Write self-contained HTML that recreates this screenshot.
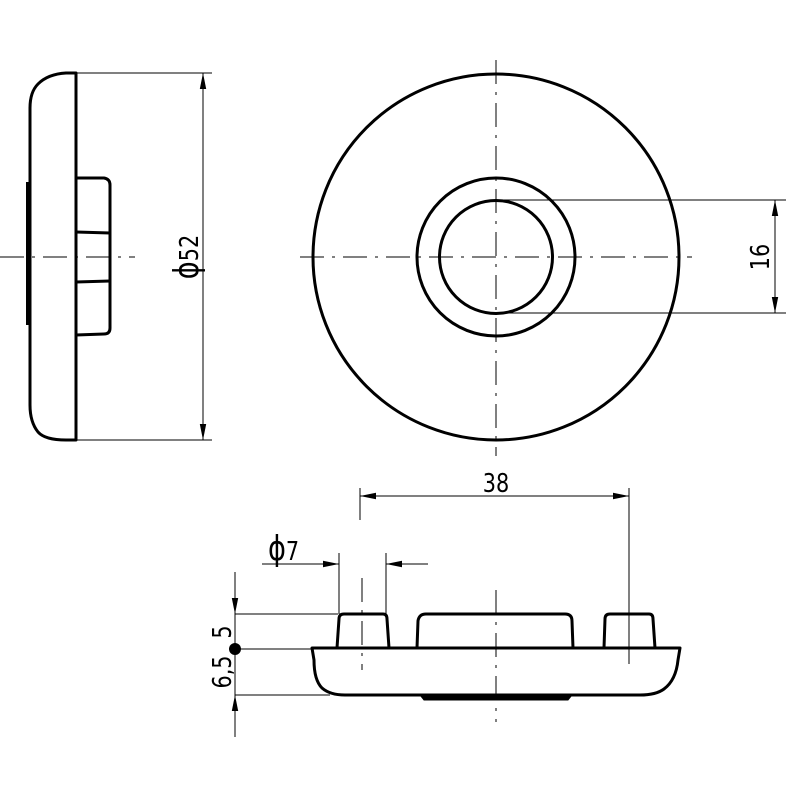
<!DOCTYPE html>
<html><head><meta charset="utf-8"><style>html,body{margin:0;padding:0;background:#fff}svg{display:block}</style></head>
<body>
<svg width="800" height="800" viewBox="0 0 800 800" xmlns="http://www.w3.org/2000/svg" font-family="'DejaVu Sans','Liberation Sans',sans-serif">
<defs>
<marker id="a" viewBox="0 0 16 8" refX="16" refY="4" markerWidth="16" markerHeight="8" markerUnits="userSpaceOnUse" orient="auto-start-reverse"><path d="M0,0.8 L16,4 L0,7.2z" fill="#000"/></marker>
</defs>
<g fill="none" stroke="#000">
<g stroke-width="1" stroke-dasharray="24,8,3,8">
<line x1="496" y1="60" x2="496" y2="456"/>
<line x1="300" y1="257" x2="692" y2="257"/>
<line x1="0" y1="257" x2="135" y2="257"/>
<line x1="496" y1="590" x2="496" y2="722"/>
<line x1="362" y1="578" x2="362" y2="670"/>
<line x1="629" y1="640" x2="629" y2="670"/>
</g>
<g stroke-width="3">
<circle cx="496" cy="257" r="183"/>
<circle cx="496" cy="257" r="79"/>
<circle cx="496" cy="257" r="56.5"/>
</g>
<g stroke-width="1">
<line x1="496" y1="200" x2="786" y2="200"/>
<line x1="496" y1="313" x2="786" y2="313"/>
<line x1="775" y1="200" x2="775" y2="313" marker-start="url(#a)" marker-end="url(#a)"/>
</g>
<g stroke-width="3" stroke-linejoin="round">
<path d="M76,73 L76,440 L66,440 Q45,440 38,432 Q30,422 30,405 L30,108 Q30,92 38,84 Q48,74 66,73 Z"/>
<path d="M76,178 L104,178 Q110,179 110,185 L110,328 Q110,334 104,334 L76,335"/>
<line x1="76" y1="232" x2="110" y2="233"/>
<line x1="76" y1="282" x2="110" y2="281"/>
</g>
<rect x="26" y="182" width="5" height="143" fill="#000" stroke="none"/>
<g stroke-width="1">
<line x1="76" y1="73" x2="212" y2="73"/>
<line x1="76" y1="440" x2="212" y2="440"/>
<line x1="203" y1="73" x2="203" y2="440" marker-start="url(#a)" marker-end="url(#a)"/>
</g>
<g stroke-width="3" stroke-linejoin="round">
<path d="M312,648 L680,648 L678,660 Q676,680 664,689 Q656,695 640,695 L345,695 Q330,695 322,688 Q314,680 314,660 Z"/>
<path d="M337,648 L339,619 Q339,614 344,614 L383,614 Q387,614 387,619 L389,648"/>
<path d="M417,648 L418,621 Q419,614 426,614 L565,614 Q572,614 572,621 L573,648"/>
<path d="M604,648 L605,619 Q605,614 610,614 L649,614 Q653,614 653,619 L655,648"/>
</g>
<path d="M420,695 L572,695 L568,700 L424,700 Z" fill="#000" stroke="#000" stroke-width="1"/>
<g stroke-width="1">
<line x1="360" y1="488" x2="360" y2="520"/>
<line x1="629" y1="488" x2="629" y2="648"/>
<line x1="360" y1="496" x2="629" y2="496" marker-start="url(#a)" marker-end="url(#a)"/>
<line x1="339" y1="553" x2="339" y2="614"/>
<line x1="386" y1="553" x2="386" y2="614"/>
<line x1="262" y1="564" x2="339" y2="564" marker-end="url(#a)"/>
<line x1="428" y1="564" x2="386" y2="564" marker-end="url(#a)"/>
<line x1="235" y1="614" x2="338" y2="614"/>
<line x1="235" y1="649" x2="312" y2="649"/>
<line x1="235" y1="695" x2="330" y2="695"/>
<line x1="235" y1="572" x2="235" y2="614" marker-end="url(#a)"/>
<line x1="235" y1="614" x2="235" y2="695"/>
<line x1="235" y1="737" x2="235" y2="695" marker-end="url(#a)"/>
</g>
</g>
<circle cx="235" cy="649" r="6" fill="#000"/>
<g fill="#000" font-size="26">
<text transform="translate(496,492) scale(0.8,1)" text-anchor="middle">38</text>
<text transform="translate(268,560) scale(0.8,1)"><tspan font-size="34">ϕ</tspan>7</text>
<text transform="translate(769,257) rotate(-90) scale(0.8,1)" text-anchor="middle">16</text>
<text transform="translate(198,257) rotate(-90) scale(0.8,1)" text-anchor="middle"><tspan font-size="34">ϕ</tspan>52</text>
<text transform="translate(231,632) rotate(-90) scale(0.8,1)" text-anchor="middle">5</text>
<text transform="translate(231,672) rotate(-90) scale(0.8,1)" text-anchor="middle">6,5</text>
</g>
</svg>
</body></html>
